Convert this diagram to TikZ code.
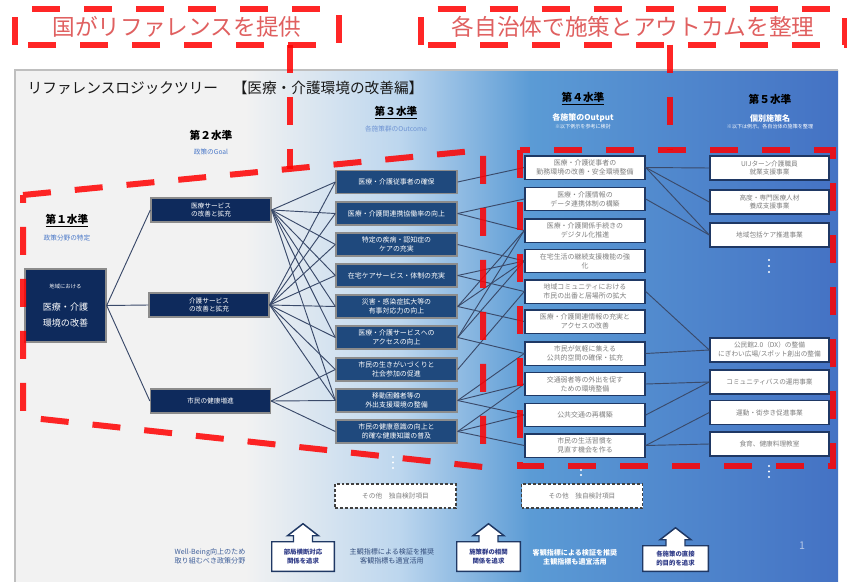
\documentclass[tikz,border=0pt]{standalone}
\usepackage{fontspec}
\setmainfont{Noto Sans CJK JP}
\usetikzlibrary{calc}
\definecolor{panelgray}{HTML}{F2F2F2}
\definecolor{bla}{HTML}{BCD6EE}
\definecolor{blb}{HTML}{5B9BD5}
\definecolor{blc}{HTML}{4472C4}
\definecolor{navy}{HTML}{0E2A5C}
\definecolor{lthree}{HTML}{1F497D}
\definecolor{boxgray}{HTML}{8C8C8C}
\definecolor{navyline}{HTML}{1F3864}
\definecolor{txtgray}{HTML}{7F7F7F}
\definecolor{connc}{HTML}{3A4A6A}
\definecolor{goalblue}{HTML}{4A78C8}
\definecolor{redline}{HTML}{FF0000}
\definecolor{labred}{HTML}{E06060}
\definecolor{arrtxt}{HTML}{2E3A87}
\definecolor{bottxt}{HTML}{3F5F9A}
\tikzset{
  reddash/.style={draw=redline, opacity=0.85, line width=4.5pt, dash pattern=on 21pt off 18pt},
  toplab/.style={text=labred, font=\fontsize{17}{20}\selectfont, minimum height=26pt, inner sep=0pt},
  lvlhead/.style={font=\fontsize{8}{9}\selectfont\bfseries, text=black},
  goaltxt/.style={font=\fontsize{5}{6}\selectfont, text=goalblue},
  onebox/.style={draw=boxgray, line width=1pt, fill=navy, text=white, align=center, minimum width=60.75pt, minimum height=54.75pt, inner sep=1pt},
  twobox/.style={draw=boxgray, line width=1pt, fill=navy, text=white, align=center, minimum width=90pt, minimum height=18pt, inner sep=1pt, font=\fontsize{5}{6.5}\selectfont},
  threebox/.style={draw=boxgray, line width=1pt, fill=lthree, text=white, align=center, minimum width=90.75pt, minimum height=17.25pt, inner sep=1pt, font=\fontsize{5.2}{6.7}\selectfont},
  fourbox/.style={draw=navyline, line width=1.1pt, fill=white, text=txtgray, align=center, minimum width=90pt, minimum height=17.6pt, inner sep=1pt, font=\fontsize{5.2}{6.7}\selectfont},
  fivebox/.style={draw=navyline, line width=1.1pt, fill=white, text=txtgray, align=center, minimum width=89.25pt, minimum height=18pt, inner sep=1pt, font=\fontsize{5}{6.7}\selectfont},
  otherbox/.style={draw=black!75, dash pattern=on 2.2pt off 1.5pt, line width=0.9pt, fill=white, text=txtgray, minimum width=90.75pt, minimum height=18pt, font=\fontsize{5}{6}\selectfont},
  conn/.style={draw=connc, line width=0.7pt},
  arrtext/.style={text=arrtxt, align=center, font=\fontsize{4.8}{6.5}\selectfont\bfseries},
  arrshape/.style={draw=navyline, line width=1.1pt, fill=white},
  dotc/.style={fill=white, draw=none},
}
\begin{document}
\begin{tikzpicture}[x=0.75pt,y=-0.75pt]
\useasboundingbox (0,0) rectangle (847,582);
\fill[white] (0,0) rectangle (847,582);
% panel background
\fill[panelgray] (15,70) rectangle (246,582);
\shade[left color=panelgray,right color=bla] (245,70) rectangle (401,582);
\shade[left color=bla,right color=blb] (400,70) rectangle (531,582);
\shade[left color=blb,right color=blc] (530,70) rectangle (838,582);
\draw[black!25, line width=0.8pt] (15,582) -- (15,70) -- (838,70);

% title
\node[anchor=west, font=\fontsize{11}{13}\selectfont, text=black!90] (title) at (23,88) {リファレンスロジックツリー　【医療・介護環境の改善編】};

% top labels
\node[toplab, minimum width=242pt] (lab1) at (177,27) {国がリファレンスを提供};
\node[toplab, minimum width=318pt] (lab2) at (633,27) {各自治体で施策とアウトカムを整理};
\draw[reddash] (lab1.south west) rectangle (lab1.north east);
\draw[reddash] (lab2.south west) rectangle (lab2.north east);

% level headers
\node[lvlhead] (h1) at (67,221) {\underline{第１水準}};
\node[goaltxt] (g1) at (67,238) {政策分野の特定};
\node[lvlhead] (h2) at (211,135) {第２水準};
\node[goaltxt] (g2) at (211,152) {政策のGoal};
\node[lvlhead] (h3) at (396,113) {\underline{第３水準}};
\node[goaltxt, text=goalblue!80!white] (g3) at (396,129) {各施策群のOutcome};
\node[lvlhead] (h4) at (583,99) {\underline{第４水準}};
\node[font=\fontsize{6}{7}\selectfont\bfseries, text=white] (g4) at (583,118) {各施策のOutput};
\node[font=\fontsize{3.8}{4.5}\selectfont, text=white] (s4) at (583,127) {※以下例示を参考に検討};
\node[lvlhead] (h5) at (770,99) {第５水準};
\node[font=\fontsize{6}{7}\selectfont\bfseries, text=white] (g5) at (770,118) {個別施策名};
\node[font=\fontsize{3.8}{4.5}\selectfont, text=white] (s5) at (770,127) {※以下は例示。各自治体の施策を整理};

% level 1
\node[onebox] (a1) at (65.5,305.5) {{\fontsize{4}{5}\selectfont 地域における}\\[5pt]{\fontsize{6.8}{9}\selectfont 医療・介護}\\{\fontsize{6.8}{9}\selectfont 環境の改善}};

% level 2
\node[twobox] (b1) at (211,210) {医療サービス\\の改善と拡充};
\node[twobox] (b2) at (209,305) {介護サービス\\の改善と拡充};
\node[twobox] (b3) at (210.5,401) {市民の健康増進};

% level 3
\node[threebox] (c1) at (396.5,182) {医療・介護従事者の確保};
\node[threebox] (c2) at (396.5,213.5) {医療・介護間連携協働率の向上};
\node[threebox] (c3) at (396.5,244.5) {特定の疾病・認知症の\\ケアの充実};
\node[threebox] (c4) at (396.5,275.5) {在宅ケアサービス・体制の充実};
\node[threebox] (c5) at (396.5,306.5) {災害・感染症拡大等の\\有事対応力の向上};
\node[threebox] (c6) at (396.5,337.5) {医療・介護サービスへの\\アクセスの向上};
\node[threebox] (c7) at (396.5,369.5) {市民の生きがいづくりと\\社会参加の促進};
\node[threebox] (c8) at (396.5,400.5) {移動困難者等の\\外出支援環境の整備};
\node[threebox] (c9) at (396.5,431.5) {市民の健康意識の向上と\\的確な健康知識の普及};

% level 4
\node[fourbox] (d1) at (585,167.5) {医療・介護従事者の\\勤務環境の改善・安全環境整備};
\node[fourbox] (d2) at (585,199) {医療・介護情報の\\データ連携体制の構築};
\node[fourbox] (d3) at (585,230.5) {医療・介護関係手続きの\\デジタル化推進};
\node[fourbox] (d4) at (585,261) {在宅生活の継続支援機能の強\\化};
\node[fourbox] (d5) at (585,291.5) {地域コミュニティにおける\\市民の出番と居場所の拡大};
\node[fourbox] (d6) at (585,321.5) {医療・介護関連情報の充実と\\アクセスの改善};
\node[fourbox] (d7) at (585,353.5) {市民が気軽に集える\\公共的空間の確保・拡充};
\node[fourbox] (d8) at (585,384) {交通弱者等の外出を促す\\ための環境整備};
\node[fourbox] (d9) at (585,415) {公共交通の再構築};
\node[fourbox] (d10) at (585,445.5) {市民の生活習慣を\\見直す機会を作る};

% level 5
\node[fivebox] (e1) at (769.5,168) {UIJターン介護職員\\就業支援事業};
\node[fivebox] (e2) at (769.5,202) {高度・専門医療人材\\養成支援事業};
\node[fivebox] (e3) at (769.5,235) {地域包括ケア推進事業};
\node[fivebox] (e4) at (769.5,350) {公民館2.0（DX）の整備\\にぎわい広場/スポット創出の整備};
\node[fivebox] (e5) at (769.5,382) {コミュニティバスの運用事業};
\node[fivebox] (e6) at (769.5,412.5) {運動・街歩き促進事業};
\node[fivebox] (e7) at (769.5,444) {食育、健康料理教室};

% other boxes
\node[otherbox] (o1) at (395.5,496) {その他　独自検討項目};
\node[otherbox] (o2) at (582,496) {その他　独自検討項目};

% dots
\foreach \x/\y in {393/457, 393/462.5, 393/468, 581/470, 581/475, 769/260, 769/266, 769/272, 769/466, 769/471.5, 769/477}
  \fill[dotc] (\x,\y) circle (1.2);

% connectors L1-L2
\foreach \t in {b1,b2,b3} \draw[conn] (a1.east) -- (\t.west);
% L2-L3
\foreach \t in {c1,c2,c3,c4,c5,c6,c8} \draw[conn] (b1.east) -- (\t.west);
\foreach \t in {c1,c2,c3,c4,c5,c6,c7,c8} \draw[conn] (b2.east) -- (\t.west);
\foreach \t in {c7,c8,c9} \draw[conn] (b3.east) -- (\t.west);
% L3-L4
\foreach \s/\t in {c1/d1, c2/d2, c2/d3, c3/d4, c4/d4, c4/d5, c5/d3, c5/d4, c5/d6, c6/d3, c6/d4, c6/d7, c7/d5, c8/d7, c8/d8, c8/d9, c9/d8, c9/d9, c9/d10}
  \draw[conn] (\s.east) -- (\t.west);
% L4-L5
\foreach \s/\t in {d1/e1, d1/e2, d1/e3, d2/e3, d5/e4, d7/e4, d8/e5, d9/e5, d10/e6, d10/e7}
  \draw[conn] (\s.east) -- (\t.west);

% red dashed frames
\coordinate (p1) at (23,195);
\coordinate (p2) at (483,150);
\coordinate (p3) at (483,467);
\coordinate (p4) at (23,417);
\draw[reddash] (p1) -- (p2) -- (p3) -- (p4) -- cycle;
\coordinate (q1) at (290,169);
\draw[reddash] (lab1.south -| q1) -- (q1);
\coordinate (r1) at (520,150);
\coordinate (r2) at (833,466);
\draw[reddash] (r1) rectangle (r2);
\coordinate (q2) at (670,150);
\draw[reddash] (lab2.south -| q2) -- (q2);

% bottom texts
\node[font=\fontsize{5.3}{7}\selectfont, text=bottxt, align=center] (w1) at (210,556) {Well-Being向上のため\\取り組むべき政策分野};
\node[font=\fontsize{5.3}{7}\selectfont, text=bottxt!80!black, align=center] (w2) at (392,556) {主観指標による検証を推奨\\客観指標も適宜活用};
\node[font=\fontsize{5.3}{7}\selectfont\bfseries, text=white, align=center] (w3) at (575,557) {客観指標による検証を推奨\\主観指標も適宜活用};
\node[font=\fontsize{8}{9}\selectfont, text=blc!40!white] (pg) at (802,546) {1};

% bottom arrows
\node[minimum width=46.5pt, minimum height=21.75pt] (k1) at (303,556.5) {};
\node[minimum width=47.25pt, minimum height=21.75pt] (k2) at (488.5,556.5) {};
\node[minimum width=48.75pt, minimum height=18.75pt] (k3) at (675.5,558.5) {};
\foreach \k in {k1,k2,k3}
  \draw[arrshape] (\k.south west) -- (\k.north west) -- ($(\k.north)+(-9.5,0)$) -- ++(0,-6) -- ++(-6,0) -- ($(\k.north)+(0,-18)$) -- ($(\k.north)+(15.5,-6)$) -- ++(-6,0) -- ($(\k.north)+(9.5,0)$) -- (\k.north east) -- (\k.south east) -- cycle;
\node[arrtext] (kt1) at (k1) {部局横断対応\\関係を追求};
\node[arrtext] (kt2) at (k2) {施策群の相関\\関係を追求};
\node[arrtext] (kt3) at (k3) {各施策の直接\\的目的を追求};
\end{tikzpicture}
\end{document}
